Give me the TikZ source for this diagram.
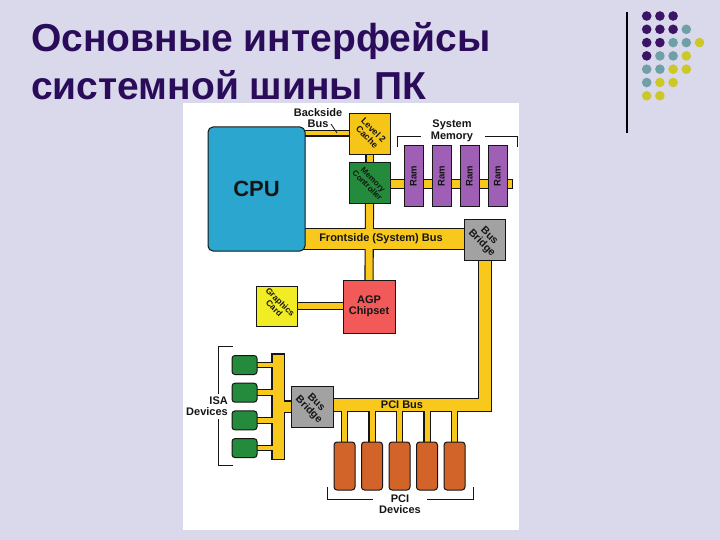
\documentclass[tikz,border=0pt]{standalone}
\usepackage{fontspec}
\setmainfont{Liberation Sans}
\usepackage{tikz}
\usetikzlibrary{positioning,calc}

\definecolor{slidebg}{HTML}{D9D9EB}
\definecolor{titlecol}{HTML}{2B0C5A}
\definecolor{ink}{HTML}{151515}
\definecolor{busyel}{HTML}{F8C81C}
\definecolor{cpucol}{HTML}{2AA6CF}
\definecolor{cachecol}{HTML}{F5C518}
\definecolor{ctrlcol}{HTML}{248A3C}
\definecolor{ramcol}{HTML}{9E5FB5}
\definecolor{bridgecol}{HTML}{A2A2A2}
\definecolor{agpcol}{HTML}{F25A5A}
\definecolor{gfxcol}{HTML}{F2EC24}
\definecolor{pcicol}{HTML}{D2642A}
\definecolor{dp}{HTML}{3B1466}
\definecolor{dt}{HTML}{6FA0A8}
\definecolor{dy}{HTML}{CCC82A}

\newcommand\diag[1]{\rotatebox{-45}{\begin{tabular}{@{}c@{}}#1\end{tabular}}}

\pgfdeclarelayer{back}
\pgfdeclarelayer{wires}
\pgfsetlayers{back,wires,main}

\begin{document}
\begin{tikzpicture}[
  x=1pt, y=-1pt,
  lbl/.style={font=\fontsize{11}{11.5}\selectfont\bfseries, text=ink, align=center, inner sep=0pt},
  box/.style={draw=ink, line width=1pt, inner sep=0pt, align=center, font=\fontsize{9}{8.5}\selectfont\bfseries, text=ink, minimum width=41pt, minimum height=41pt},
  busout/.style={draw=ink, line cap=rect, line width=#1+2.2pt},
  busin/.style={draw=busyel, line cap=rect, line width=#1},
  brk/.style={draw=ink, line width=1pt},
  title/.style={font=\fontsize{39}{48}\selectfont\bfseries, text=titlecol, inner sep=0pt, anchor=base west}
]
\useasboundingbox (0,0) rectangle (720,540);

\node[title] (title1) at (31,52) {Основные интерфейсы};
\node[title] (title2) at (31,100) {системной шины ПК};

\node[box, fill=cpucol, minimum width=97pt, minimum height=124pt, rounded corners=5pt, font=\fontsize{22}{22}\selectfont\bfseries] (cpu) at (256.5,189) {CPU};
\node[box, fill=cachecol] (l2) at (369.5,134.5) {\diag{Level 2\\Cache}};
\node[box, fill=ctrlcol, font=\fontsize{8}{7.5}\selectfont\bfseries] (mc) at (369.5,183.5) {\diag{Memory\\Controller}};
\foreach \i in {1,...,4}
  \node[box, fill=ramcol, minimum width=19pt, minimum height=61pt, font=\fontsize{9.5}{9}\selectfont\bfseries] (ram\i) at ({385.5+28*\i},176.5) {\rotatebox{90}{Ram}};
\node[box, fill=bridgecol, font=\fontsize{10.5}{10}\selectfont\bfseries] (brtop) at (485,240) {\diag{Bus\\Bridge}};
\node[box, fill=agpcol, minimum width=52pt, minimum height=53pt, font=\fontsize{11}{11.5}\selectfont\bfseries] (agp) at (369,306.5) {AGP\\Chipset};
\node[box, fill=gfxcol, minimum height=40pt, font=\fontsize{8.5}{8}\selectfont\bfseries] (gfx) at (276.5,306) {\diag{Graphics\\Card}};
\node[box, fill=bridgecol, minimum width=42pt, font=\fontsize{10.5}{10}\selectfont\bfseries] (brisa) at (312,406.5) {\diag{Bus\\Bridge}};
\foreach \i in {1,...,4}
  \node[box, fill=ctrlcol, minimum width=25pt, minimum height=19pt, rounded corners=3pt] (isa\i) at (244.5,{337.3+27.7*\i}) {};
\foreach \i in {1,...,5}
  \node[box, fill=pcicol, minimum width=21pt, minimum height=48pt, rounded corners=3pt] (pci\i) at ({317+27.5*\i},466) {};

\node[lbl] (bsblbl) at (318,118) {Backside\\Bus};
\node[lbl] (memlbl) at (452,131) {System\\Memory};
\node[lbl] (fsblbl) at (381,239) {Frontside (System) Bus};
\node[lbl] (pcibuslbl) at (402,405) {PCI Bus};
\node[lbl, align=right, anchor=east] (isalbl) at (228,406) {ISA\\Devices};
\node[lbl] (pcilbl) at (400,504) {PCI\\Devices};

\coordinate (memend) at (508,184);
\coordinate (isatop) at (278,360);
\coordinate (isabot) at (278,453);
\coordinate (bsbtip) at (337,133);

\begin{pgfonlayer}{back}
  \fill[slidebg] (0,0) rectangle (720,540);
  \fill[white] (183,103) rectangle (519,530);
\end{pgfonlayer}

\begin{pgfonlayer}{wires}
\foreach \bus in {busout,busin} {
  \draw[\bus=4pt] (cpu.east |- 0,133.5) -- (l2.west |- 0,133.5);
  \draw[\bus=6pt] (l2.south) -- (mc.north);
  \draw[\bus=8pt] (mc.east |- 0,184) -- (memend);
  \draw[\bus=7pt] (mc.south) -- (agp.north);
  \draw[\bus=20pt] (cpu.east |- 0,239) -- (brtop.west |- 0,239);
  \draw[\bus=12pt] (brtop.south) -- (brtop.south |- 0,405) -- (brisa.east |- 0,405);
  \draw[\bus=6pt] (gfx.east) -- (agp.west |- gfx.east);
  \draw[\bus=11pt] (isatop) -- (isabot);
  \draw[\bus=10pt] (isatop |- brisa.west) -- (brisa.west);
  \foreach \i in {1,...,4}
    \draw[\bus=4.5pt] (isa\i.east) -- (isatop |- isa\i.east);
  \foreach \i in {1,...,5}
    \draw[\bus=5pt] (pci\i.north) -- (pci\i.north |- 0,405);
}
\end{pgfonlayer}

\draw[ink, line width=0.8pt] (bsbtip) -- ++(-6,-9);
\draw[brk] (397,147) -- (397,136.5) -- (421,136.5);
\draw[brk] (485,136.5) -- (517,136.5) -- (517,147);
\draw[brk] (233,346) -- (218.5,346) -- (218.5,394);
\draw[brk] (218.5,419) -- (218.5,465) -- (233,465);
\draw[brk] (327,487) -- (327,499) -- (373,499);
\draw[brk] (427,499) -- (473,499) -- (473,487);

\draw[black, line width=1.5pt] (627,12) -- (627,133);
\foreach \r/\cols in {0/{dp,dp,dp}, 1/{dp,dp,dp,dt}, 2/{dp,dp,dt,dt,dy}, 3/{dp,dt,dt,dy}, 4/{dt,dt,dy,dy}, 5/{dt,dy,dy}, 6/{dy,dy}}
  \foreach \c [count=\k] in \cols
    \fill[\c] ({646.7+13.2*(\k-1)},{16+13.3*\r}) circle (4.8pt);
\end{tikzpicture}
\end{document}
